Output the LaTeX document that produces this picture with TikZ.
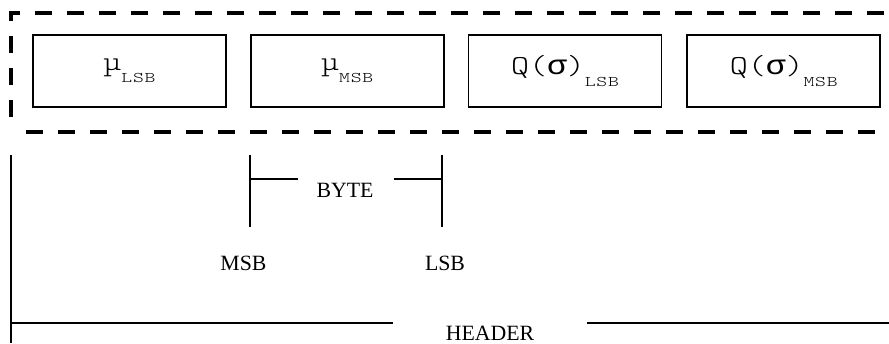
\documentclass[tikz,border=0pt]{standalone}
\usepackage{fontspec}
\setmainfont{Liberation Serif}
\newfontfamily\fieldfont[FakeStretch=1.25]{lmmonolt10-regular.otf}
\newfontfamily\subfont[FakeStretch=1.4, LetterSpace=5]{lmmonolt10-regular.otf}
\newfontfamily\greekmono[FakeStretch=1.2]{Liberation Mono}
\usetikzlibrary{positioning, calc}

% subscript the way the reference sets it: small, wide and well below the line
\newcommand{\fieldsub}[1]{\lower8.5pt\hbox{\subfont\fontsize{10.5}{10.5}\selectfont #1}}

\begin{document}
\begin{tikzpicture}[
		x=0.025cm, y=-0.025cm,
		% Style for the four fields of the frame
		field/.style={
			draw, line width=1.2pt,
			minimum width=4.825cm, minimum height=1.8cm,
			inner sep=0pt, font=\fieldfont\fontsize{19.5}{19.5}\selectfont
		},
		% Dashed outline round the fields
		frame/.style={line width=2.2pt, dash pattern=on 0.42cm off 0.38cm, dash phase=0.43cm},
		% Solid marker lines
		rule/.style={line width=1.4pt},
		mark label/.style={font=\fontsize{15.5}{15.5}\selectfont, inner sep=1pt}
		]
		\useasboundingbox (0,0) rectangle (889,343);
		
		% --- 1. The fields ---
		\node[field] (muL) at (129.5,71) {µ\fieldsub{LSB}};
		\node[field, right=0.575cm of muL] (muM) {µ\fieldsub{MSB}};
		\node[field, right=0.575cm of muM] (qL) {Q({\greekmono σ})\fieldsub{LSB}};
		\node[field, right=0.6cm of qL] (qM) {Q({\greekmono σ})\fieldsub{MSB}};
		
		% --- 2. Dashed frame, open on the right ---
		\coordinate (fTL) at (11,13);
		\coordinate (fBL) at (11,132);
		\draw[frame] (fBL) |- (fTL -| 889,0);
		\draw[frame] (fBL) -- (fBL -| 889,0);
		
		% --- 3. Byte bracket ---
		\node[mark label] (byte) at (345,190) {BYTE};
		\coordinate (bL) at (250,155);
		\coordinate (bR) at (442,155);
		\draw[rule] (bL) -- ++(0,72);
		\draw[rule] (bR) -- ++(0,72);
		\draw[rule] ($(bL)+(0,24)$) -- ++(48,0);
		\draw[rule] ($(bR)+(0,24)$) -- ++(-48,0);
		\node[mark label] (msb) at (243.5,263) {MSB};
		\node[mark label] (lsb) at (445,263) {LSB};
		
		% --- 4. Header line ---
		\node[mark label] (hdr) at (490,333) {HEADER};
		\coordinate (hL) at (11,323);
		\draw[rule] (11,155) -- (11,343);
		\draw[rule] (hL) -- (393,323);
		\draw[rule] (587,323) -- (889,323);
		
	\end{tikzpicture}
\end{document}
